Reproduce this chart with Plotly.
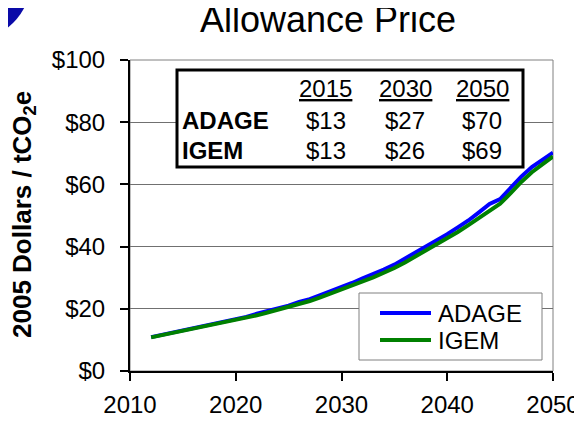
import plotly.graph_objects as go

years = list(range(2012, 2051))
adage = [10.9, 11.6, 12.3, 13.0, 13.6, 14.3, 15.0, 15.9, 16.6, 17.4,
         18.4, 19.2, 20.1, 21.0, 22.2, 23.1, 24.4, 25.6, 26.9, 28.3,
         29.8, 31.1, 32.6, 34.2, 36.1, 38.0, 40.0, 42.0, 44.0, 46.2,
         48.4, 51.0, 53.7, 55.3, 58.9, 62.5, 65.6, 67.8, 70.2]
igem = [10.8, 11.5, 12.2, 12.9, 13.4, 14.1, 14.8, 15.5, 16.2, 17.0,
        17.9, 18.8, 19.7, 20.5, 21.5, 22.5, 23.7, 24.9, 26.1, 27.4,
        28.8, 30.1, 31.5, 33.1, 34.9, 36.8, 38.7, 40.6, 42.6, 44.7,
        46.9, 49.2, 51.7, 53.8, 57.2, 60.8, 63.9, 66.6, 69.0]

series_names = ["ADAGE", "IGEM"]
series_colors = ["#0000FF", "#008000"]

table_years = ["2015", "2030", "2050"]
table_adage = [13, 27, 70]
table_igem = [13, 26, 69]

x_ticks = [2010, 2020, 2030, 2040, 2050]
y_ticks = [0, 20, 40, 60, 80, 100]
y_ticktext = ["$0", "$20", "$40", "$60", "$80", "$100"]

# the page body adds an 8px margin around the figure
OFF = 8
W, H = 582 - 2 * OFF, 422 - 2 * OFF
# target plot area in page pixels: x 130..553, y 60..371
PL, PR, PT, PB = 130, 553, 60, 371
L, R, T, B = PL - OFF, W - (PR - OFF), PT - OFF, H - (PB - OFF)
PW, PH = PR - PL, PB - PT


def px(x):
    return (x - PL) / PW


def py(y):
    return (PB - y) / PH


FONT = "Liberation Sans, Arial, sans-serif"

fig = go.Figure()
for name, vals, col in zip(series_names, [adage, igem], series_colors):
    fig.add_trace(go.Scatter(x=years, y=vals, mode="lines", name=name,
                             showlegend=False, line=dict(color=col, width=4)))

shapes = [
    dict(type="rect", xref="paper", yref="paper", x0=0, x1=1, y0=0, y1=1,
         line=dict(color="#808080", width=1), layer="below"),
    # data table box
    dict(type="rect", xref="paper", yref="paper", x0=px(177), x1=px(523),
         y0=py(167), y1=py(70), line=dict(color="black", width=3),
         fillcolor="white", layer="above"),
    # legend box
    dict(type="rect", xref="paper", yref="paper", x0=px(359), x1=px(542),
         y0=py(360), y1=py(293), line=dict(color="#808080", width=1),
         fillcolor="white", layer="above"),
    # corner decoration
    dict(type="path", xref="paper", yref="paper",
         path=f"M {px(0)},{py(0)} L {px(28)},{py(0)} Q {px(19)},{py(22)} {px(0)},{py(33)} Z",
         fillcolor="#0A0AA8", line=dict(width=0), layer="above"),
]

ann = []
# legend entries
for i, (name, col) in enumerate(zip(series_names, series_colors)):
    ly = 313 + 27 * i
    shapes.append(dict(type="line", xref="paper", yref="paper",
                       x0=px(380), x1=px(431), y0=py(ly), y1=py(ly),
                       line=dict(color=col, width=4), layer="above"))
    ann.append(dict(text=name, xref="paper", yref="paper",
                    x=px(436), y=py(ly), xanchor="left", yanchor="middle",
                    showarrow=False, font=dict(size=24, color="black", family=FONT)))

ann.append(dict(text="Allowance Price", xref="paper", yref="paper",
                x=px(328), y=py(20), xanchor="center", yanchor="middle",
                showarrow=False, font=dict(size=36, color="black", family=FONT)))
ann.append(dict(text="<b>2005 Dollars / tCO<sub>2</sub>e</b>", xref="paper", yref="paper",
                x=px(23), y=py(215), xanchor="center", yanchor="middle",
                textangle=-90, showarrow=False,
                font=dict(size=26, color="black", family=FONT)))

col_x = [325.5, 405, 482]
for cx, yr in zip(col_x, table_years):
    ann.append(dict(text=f"<u>{yr}</u>", xref="paper", yref="paper",
                    x=px(cx), y=py(88), xanchor="center", yanchor="middle",
                    showarrow=False, font=dict(size=24, color="black", family=FONT)))
for row_y, name, vals in [(120.7, series_names[0], table_adage),
                          (150.7, series_names[1], table_igem)]:
    ann.append(dict(text=f"<b>{name}</b>", xref="paper", yref="paper",
                    x=px(180), y=py(row_y), xanchor="left", yanchor="middle",
                    showarrow=False, font=dict(size=24, color="black", family=FONT)))
    for cx, v in zip(col_x, vals):
        ann.append(dict(text=f"${v}", xref="paper", yref="paper",
                        x=px(cx), y=py(row_y), xanchor="center", yanchor="middle",
                        showarrow=False, font=dict(size=24, color="black", family=FONT)))

fig.update_layout(
    width=W, height=H,
    margin=dict(l=L, r=R, t=T, b=B, autoexpand=False),
    paper_bgcolor="white", plot_bgcolor="white",
    font=dict(family=FONT, size=24, color="black"),
    showlegend=False,
    xaxis=dict(range=[2010, 2050], tickvals=x_ticks, ticks="outside", ticklen=8,
               tickwidth=1.5, tickcolor="black", showline=True, linecolor="black",
               linewidth=2, showgrid=False, zeroline=False, automargin=False,
               tickfont=dict(size=24), ticklabelstandoff=3,
               ticklabeloverflow="allow"),
    yaxis=dict(range=[0, 100], tickvals=y_ticks, ticktext=y_ticktext, ticks="outside",
               ticklen=8, tickwidth=1.5, tickcolor="black", showline=True,
               linecolor="black", linewidth=2, showgrid=True, gridcolor="#707070",
               gridwidth=1, zeroline=False, automargin=False, tickfont=dict(size=24),
               ticklabelstandoff=10),
    shapes=shapes,
    annotations=ann,
)

fig.write_html("out.html")
